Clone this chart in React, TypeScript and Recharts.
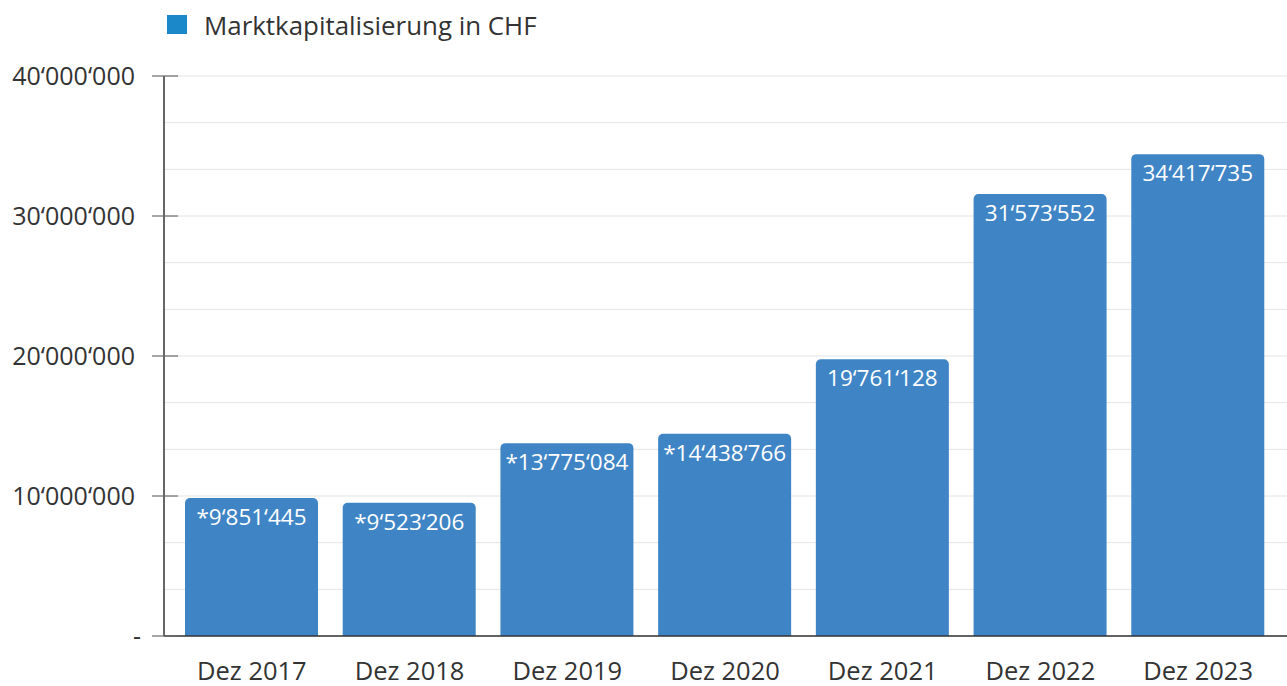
import React from 'react';
import { BarChart, Bar, XAxis, YAxis, CartesianGrid, Legend, LabelList } from 'recharts';

const categories = ['Dez 2017', 'Dez 2018', 'Dez 2019', 'Dez 2020', 'Dez 2021', 'Dez 2022', 'Dez 2023'];
const values = [9851445, 9523206, 13775084, 14438766, 19761128, 31573552, 34417735];
const valueLabels = ['*9‘851‘445', '*9‘523‘206', '*13‘775‘084', '*14‘438‘766', '19‘761‘128', '31‘573‘552', '34‘417‘735'];
const majorTicks = [0, 10000000, 20000000, 30000000, 40000000];
const majorTickLabels = ['-', '10‘000‘000', '20‘000‘000', '30‘000‘000', '40‘000‘000'];
const seriesName = 'Marktkapitalisierung in CHF';

const gridTicks: number[] = [];
for (let i = 0; i < majorTicks.length - 1; i++) {
  const a = majorTicks[i];
  const b = majorTicks[i + 1];
  gridTicks.push(a, a + (b - a) / 3, a + (2 * (b - a)) / 3);
}
gridTicks.push(majorTicks[majorTicks.length - 1]);

const data = categories.map((c, i) => ({ name: c, value: values[i], label: valueLabels[i] }));

const FONT = '"Open Sans", sans-serif';
const TEXT = '#333333';
const BAR = '#3f85c6';

const YTick = (props: any) => {
  const { x, y, payload } = props;
  const idx = majorTicks.findIndex((m) => Math.abs(m - payload.value) < 1);
  if (idx < 0) return null;
  const dashShift = idx === 0 ? 6 : 0;
  return (
    <g>
      <line x1={x - 12} x2={x + 14} y1={y} y2={y} stroke="#6b6b6b" strokeWidth={1.2} />
      <text x={x - 29 + dashShift} y={y} dy="0.35em" textAnchor="end" fontSize={25} fill={TEXT} fontFamily={FONT}>
        {majorTickLabels[idx]}
      </text>
    </g>
  );
};

const BarLabel = (props: any) => {
  const { x, y, width, index } = props;
  return (
    <text x={x + width / 2} y={y + 11} dy="0.71em" textAnchor="middle" fontSize={22.5} fill="#ffffff" fontFamily={FONT}>
      {valueLabels[index]}
    </text>
  );
};

const LegendContent = () => (
  <div style={{ height: 68, position: 'relative', fontFamily: FONT }}>
    <div style={{ position: 'absolute', left: 167, top: 7, width: 20, height: 19, background: '#1b88ca' }} />
    <div style={{ position: 'absolute', left: 204, top: 0, fontSize: 25.9, color: TEXT, lineHeight: '34px', whiteSpace: 'nowrap' }}>
      {seriesName}
    </div>
  </div>
);

export default function App() {
  return (
    <div style={{ position: 'absolute', left: 0, top: 0, width: 1287, height: 686, background: '#fff' }}>
      <BarChart width={1287} height={686} data={data} margin={{ top: 8, right: 0, bottom: 0, left: 0 }} barSize={133}>
        <Legend verticalAlign="top" align="left" content={<LegendContent />} wrapperStyle={{ left: 0, top: 8, width: 1287, height: 68 }} />
        <CartesianGrid vertical={false} stroke="#e4e4e4" strokeWidth={1} />
        <XAxis
          dataKey="name"
          axisLine={{ stroke: '#333333', strokeWidth: 1.5 }}
          tickLine={false}
          tickSize={0}
          tickMargin={26}
          height={50}
          padding={{ left: 9, right: 10 }}
          tick={{ fontSize: 25.5, fill: TEXT, fontFamily: FONT }}
          interval={0}
        />
        <YAxis
          width={164}
          domain={[0, 40000000]}
          ticks={gridTicks}
          interval={0}
          tickSize={0}
          tickMargin={0}
          tickLine={false}
          axisLine={{ stroke: '#333333', strokeWidth: 1.5 }}
          tick={<YTick />}
        />
        <Bar dataKey="value" name={seriesName} fill={BAR} radius={[5, 5, 0, 0]} isAnimationActive={false}>
          <LabelList dataKey="label" content={<BarLabel />} />
        </Bar>
      </BarChart>
    </div>
  );
}
